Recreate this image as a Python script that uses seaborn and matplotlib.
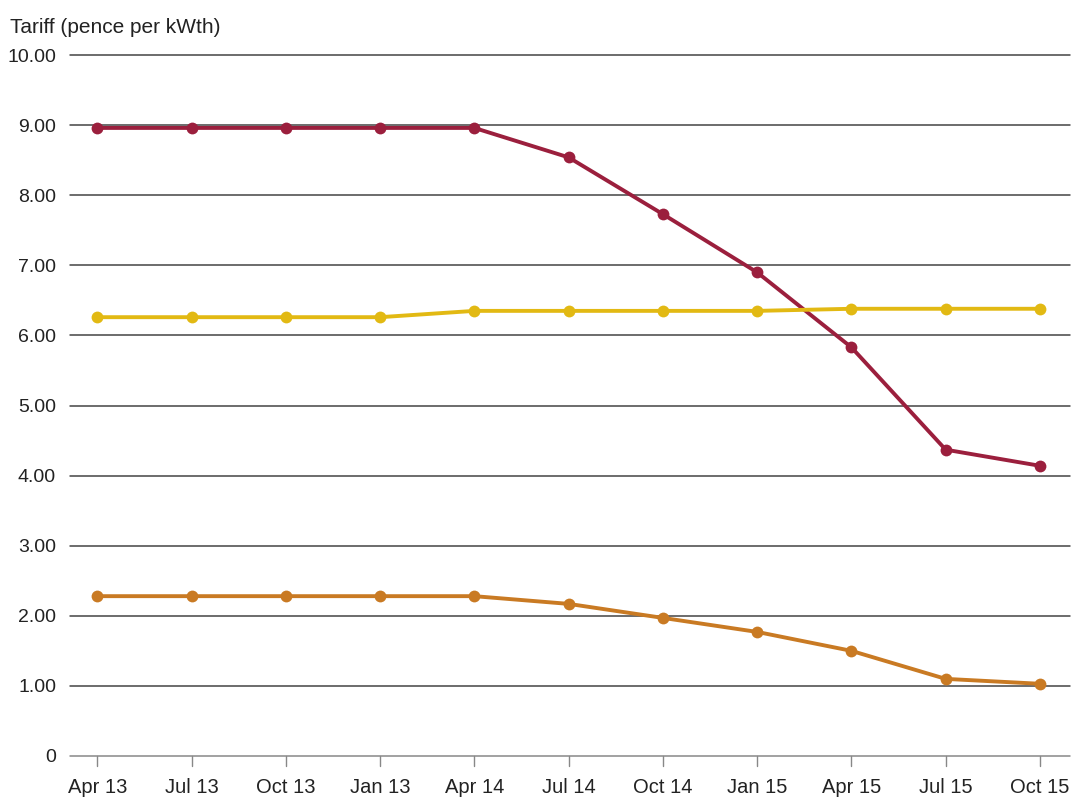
import matplotlib
matplotlib.use("Agg")
import matplotlib.pyplot as plt
import seaborn as sns
import pandas as pd

quarters = ["Apr 13", "Jul 13", "Oct 13", "Jan 13", "Apr 14", "Jul 14",
            "Oct 14", "Jan 15", "Apr 15", "Jul 15", "Oct 15"]
series_a = [8.96, 8.96, 8.96, 8.96, 8.96, 8.54, 7.73, 6.90, 5.83, 4.37, 4.14]
series_b = [6.26, 6.26, 6.26, 6.26, 6.35, 6.35, 6.35, 6.35, 6.38, 6.38, 6.38]
series_c = [2.28, 2.28, 2.28, 2.28, 2.28, 2.17, 1.97, 1.77, 1.50, 1.10, 1.03]
yticks = [0, 1, 2, 3, 4, 5, 6, 7, 8, 9, 10]
ytick_labels = ["0", "1.00", "2.00", "3.00", "4.00", "5.00", "6.00", "7.00", "8.00", "9.00", "10.00"]

colors = {"A": "#9b1f3d", "B": "#e2b913", "C": "#c97a23"}

rows = []
for name, vals in (("A", series_a), ("B", series_b), ("C", series_c)):
    for i, (q, v) in enumerate(zip(quarters, vals)):
        rows.append({"pos": i, "quarter": q, "series": name, "value": v})
df = pd.DataFrame(rows)

sns.set_theme(style="white")
plt.rcParams["font.family"] = ["Liberation Sans", "DejaVu Sans"]

fig = plt.figure(figsize=(10.76, 8.01), dpi=100)
ax = fig.add_axes([0.065, 0.0562, 0.9295, 0.8751])

for y in yticks:
    ax.axhline(y, color="#444444" if y else "#888888", lw=1.1, zorder=1, clip_on=False)

sns.lineplot(data=df, x="pos", y="value", hue="series", palette=colors,
             marker="o", markersize=8.5, markeredgewidth=0, linewidth=2.8,
             legend=False, ax=ax, zorder=3)

ax.set_xlim(-0.29, 10.32)
ax.set_ylim(0, 10)
ax.set_yticks(yticks)
ax.set_yticklabels(ytick_labels)
ax.set_xticks(range(len(quarters)))
ax.set_xticklabels(quarters)
for s in ax.spines.values():
    s.set_visible(False)
ax.tick_params(axis="x", length=0, pad=16, labelsize=14.5, colors="#222222")
ax.tick_params(axis="y", length=0, pad=10, labelsize=14, colors="#222222")
for i in range(len(quarters)):
    ax.plot([i, i], [0, -0.14], color="#888888", lw=1, clip_on=False)
ax.set_xlabel("")
ax.set_ylabel("")

fig.text(0.009, 0.977, "Tariff (pence per kWth)", fontsize=15, color="#222222",
         ha="left", va="top")

fig.savefig("out.png", dpi=100)
